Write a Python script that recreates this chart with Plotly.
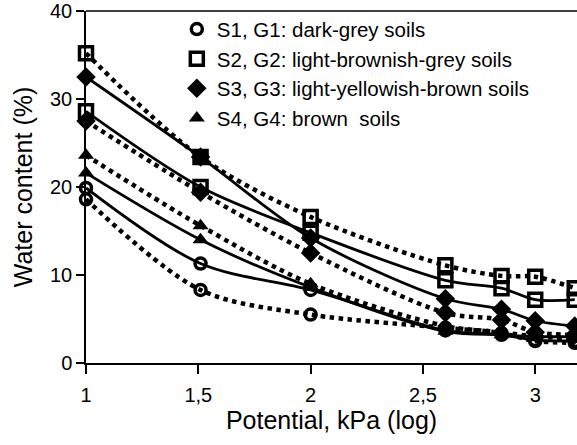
import plotly.graph_objects as go

# Potential, log10(kPa)
potential = [1.0, 1.51, 2.0, 2.6, 2.85, 3.0, 3.176]

s1 = [19.9, 11.3, 8.3, 3.7, 3.2, 2.6, 2.5]
g1 = [18.6, 8.3, 5.5, 4.0, 3.4, 2.5, 2.3]
s2 = [28.6, 20.0, 14.8, 9.4, 8.5, 7.2, 7.2]
g2 = [35.2, 23.4, 16.6, 11.1, 9.9, 9.8, 8.5]
s3 = [32.5, 23.4, 14.2, 7.3, 6.1, 4.8, 4.2]
g3 = [27.5, 19.4, 12.5, 5.7, 4.9, 3.5, 3.2]
s4 = [21.6, 14.0, 8.6, 3.6, 3.2, 3.0, 3.0]
g4 = [23.6, 15.6, 9.0, 4.2, 3.5, 3.0, 2.8]

legend_labels = [
    "S1, G1: dark-grey soils",
    "S2, G2: light-brownish-grey soils",
    "S3, G3: light-yellowish-brown soils",
    "S4, G4: brown  soils",
]

x_tickvals = [1, 1.5, 2, 2.5, 3]
x_ticktext = ["1", "1,5", "2", "2,5", "3"]
y_tickvals = [0, 10, 20, 30, 40]

markers = [
    dict(symbol="circle-open", size=11, color="black", line=dict(width=3.5, color="black")),
    dict(symbol="square-open", size=13, color="black", line=dict(width=3.5, color="black")),
    dict(symbol="diamond", size=15, color="black", line=dict(width=0)),
    dict(symbol="triangle-up", size=14, color="black", line=dict(width=0)),
]

fig = go.Figure()

series = [(s1, g1), (s2, g2), (s3, g3), (s4, g4)]
for (s, g), m in zip(series, markers):
    fig.add_trace(go.Scatter(
        x=potential, y=g, mode="lines+markers", marker=m,
        line=dict(color="black", width=4.5, dash="dot", shape="spline", smoothing=0.9),
        showlegend=False, cliponaxis=False))
    fig.add_trace(go.Scatter(
        x=potential, y=s, mode="lines+markers", marker=m,
        line=dict(color="black", width=2.8, shape="spline", smoothing=0.9),
        showlegend=False, cliponaxis=False))

for lab, m in zip(legend_labels, markers):
    fig.add_trace(go.Scatter(x=[None], y=[None], mode="markers", marker=m, name=lab))

fig.update_layout(
    width=577, height=445,
    margin=dict(l=86, r=0, t=11, b=82),
    paper_bgcolor="white", plot_bgcolor="white",
    font=dict(family="Liberation Sans, Arial, sans-serif", color="black"),
    legend=dict(x=0.185, y=1.005, xanchor="left", yanchor="top",
                font=dict(size=20.5), bgcolor="rgba(0,0,0,0)",
                itemwidth=30, tracegroupgap=0),
    xaxis=dict(range=[1, 3.186], tickvals=x_tickvals, ticktext=x_ticktext,
               showgrid=False, zeroline=False, showline=True, linecolor="black",
               linewidth=1.5, ticks="outside", ticklen=9, tickwidth=1.5, tickcolor="black",
               ticklabelstandoff=4, tickfont=dict(size=20),
               title=dict(text="Potential, kPa (log)", font=dict(size=25), standoff=2)),
    yaxis=dict(range=[0, 40], tickvals=y_tickvals, showgrid=False, zeroline=False,
               showline=True, linecolor="black", linewidth=1.5, ticks="outside",
               ticklen=8, tickwidth=1.5, tickcolor="black", tickfont=dict(size=20),
               ticklabelstandoff=0,
               title=dict(text="Water content (%)", font=dict(size=25), standoff=10)),
    shapes=[dict(type="line", xref="paper", yref="paper", x0=0, x1=1, y0=1, y1=1,
                 line=dict(color="black", width=1.5))],
)

fig.write_html("out.html")
